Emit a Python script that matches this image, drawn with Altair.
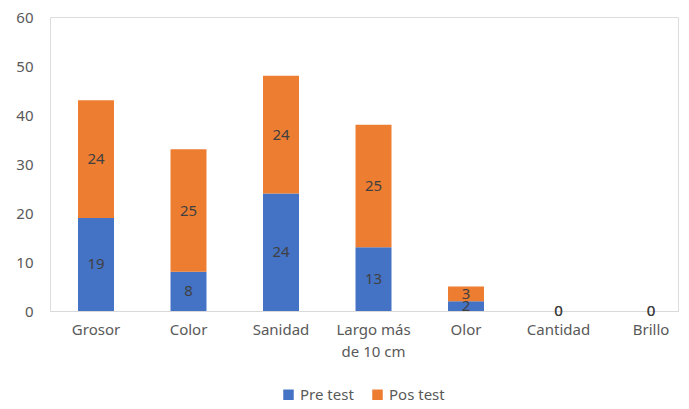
import altair as alt
import pandas as pd

categories = ["Grosor", "Color", "Sanidad", "Largo más de 10 cm", "Olor", "Cantidad", "Brillo"]
pre_test = [19, 8, 24, 13, 2, 0, 0]
pos_test = [24, 25, 24, 25, 3, 0, 0]
series = ["Pre test", "Pos test"]
colors = ["#4472C4", "#ED7D31"]

rows = []
for i, c in enumerate(categories):
    rows.append({"cat": c, "serie": series[0], "ord": 0, "value": pre_test[i]})
    rows.append({"cat": c, "serie": series[1], "ord": 1, "value": pos_test[i]})
df = pd.DataFrame(rows)

FONT = "Noto Sans"

base = alt.Chart(df).transform_stack(
    stack="value", groupby=["cat"], as_=["v0", "v1"],
    sort=[alt.SortField("ord", order="ascending")]
).transform_calculate(mid="(datum.v0 + datum.v1) / 2")

x = alt.X("cat:N", sort=categories, title=None,
          scale=alt.Scale(paddingInner=0.611, paddingOuter=0.2, align=0.757),
          axis=alt.Axis(labelAngle=0, ticks=False, domainColor="#D9D9D9", domainWidth=1,
                        labelColor="#595959", labelFont=FONT, labelFontSize=15,
                        labelPadding=11, labelLineHeight=22,
                        labelExpr="datum.label == 'Largo más de 10 cm' ? ['Largo más', 'de 10 cm'] : datum.label"))

bars = base.mark_bar().encode(
    x=x,
    y=alt.Y("v0:Q", title=None, scale=alt.Scale(domain=[0, 60]),
            axis=alt.Axis(values=[0, 10, 20, 30, 40, 50, 60], grid=False, domain=False, ticks=False,
                          labelColor="#595959", labelFont=FONT, labelFontSize=15, labelPadding=17)),
    y2="v1:Q",
    color=alt.Color("serie:N", sort=series, scale=alt.Scale(domain=series, range=colors),
                    legend=alt.Legend(title=None, orient="none", direction="horizontal",
                                      legendX=231, legendY=370, symbolType="square", symbolSize=110,
                                      symbolStrokeWidth=0, labelColor="#595959", labelFont=FONT,
                                      labelFontSize=15, columnPadding=16, labelOffset=4)),
)

labels = base.mark_text(color="#404040", font=FONT, fontSize=15, baseline="middle").encode(
    x=alt.X("cat:N", sort=categories),
    y=alt.Y("mid:Q"),
    text=alt.Text("value:Q"),
)

chart = alt.layer(bars, labels).properties(
    width=628, height=294,
    padding={"left": 42, "top": 9, "right": 2, "bottom": 92},
    autosize=alt.AutoSizeParams(type="none"),
).configure_view(stroke=None).configure(background="white")

chart.save("out.html", embed_options={"renderer": "svg", "actions": False})
